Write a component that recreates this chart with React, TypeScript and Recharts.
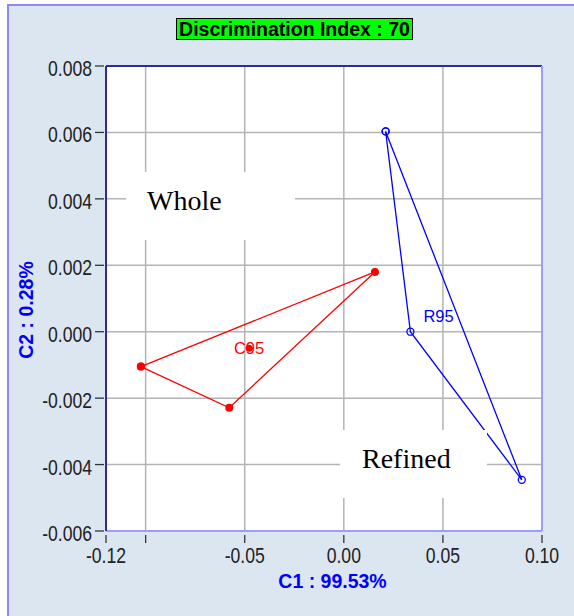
import React from 'react';
import { ScatterChart, Scatter, XAxis, YAxis, CartesianGrid, ReferenceLine } from 'recharts';

// C1 / C2 scores
const wholeC1 = [-0.1024, 0.0157, -0.0578];
const wholeC2 = [-0.00105, 0.0018, -0.00229];
const refinedC1 = [0.0211, 0.0336, 0.0898];
const refinedC2 = [0.00603, 0.0, -0.00446];

const groupNames = ['C95', 'R95'];
const centroidC1 = [-0.0478, 0.0478];
const centroidC2 = [-0.0005, 0.00048];

const xTicks = [-0.12, -0.1, -0.05, 0, 0.05, 0.1];
const yTicks = [-0.006, -0.004, -0.002, 0, 0.002, 0.004, 0.006, 0.008];

const SANS = '"Liberation Sans", Arial, sans-serif';
const PANEL = '#dce6f1';
const DARK = '#2b2b9c';
const LIGHT = '#9c9cff';

// closed outline: every vertex, then back to the first one
const ring = (xs: number[], ys: number[]) =>
  [...xs, xs[0]].map((x, i) => ({ x, y: i < ys.length ? ys[i] : ys[0] }));

const wholeData = ring(wholeC1, wholeC2);
const refinedData = ring(refinedC1, refinedC2);
const centroids = groupNames.map((name, i) => ({ name, x: centroidC1[i], y: centroidC2[i] }));

// tick labels in the original are a narrow face, so squeeze them a bit
const XTick = ({ x, y, payload }: any) => (
  <g>
    <line x1={x} x2={x} y1={y + 4} y2={y + 12} stroke="#333" strokeWidth={1.3} />
    {payload.value !== -0.1 && (
      <text transform={`translate(${x},${y + 32}) scale(0.8,1)`} textAnchor="middle"
            fontSize={22} fill="#222" fontFamily={SANS}>
        {payload.value.toFixed(2)}
      </text>
    )}
  </g>
);

const YTick = ({ x, y, payload }: any) => (
  <g>
    <line x1={x - 11} x2={x - 2} y1={y} y2={y} stroke="#333" strokeWidth={1.3} />
    <text transform={`translate(${x - 14},${y + 10}) scale(0.8,1)`} textAnchor="end"
          fontSize={22} fill="#222" fontFamily={SANS}>
      {payload.value.toFixed(3)}
    </text>
  </g>
);

const RedDot = ({ cx, cy }: any) => <circle cx={cx} cy={cy} r={4} fill="#ff0000" />;
const BlueDot = ({ cx, cy }: any) => (
  <circle cx={cx} cy={cy} r={3.5} fill="none" stroke="#0000ff" strokeWidth={1.3} />
);

const CentroidMark = ({ cx, cy, payload }: any) => {
  const red = payload.name === 'C95';
  const c = red ? '#ff0000' : '#0000ff';
  return (
    <g>
      {red && <circle cx={cx} cy={cy} r={3.5} fill={c} />}
      <text x={cx} y={cy + 6} textAnchor="middle" fontSize={16.5} fill={c} fontFamily={SANS}>
        {payload.name}
      </text>
    </g>
  );
};

const boxText: React.CSSProperties = {
  position: 'absolute',
  background: '#fff',
  fontFamily: '"Liberation Serif", "Times New Roman", serif',
  fontSize: 28,
  color: '#000',
  boxSizing: 'border-box',
};

export default function App() {
  return (
    <div style={{ position: 'absolute', left: 0, top: 0, width: 574, height: 616, overflow: 'hidden' }}>
      <div
        style={{
          position: 'absolute', left: 7, top: 4, width: 600, height: 640,
          background: PANEL, borderLeft: '2px solid #8a8af2', borderTop: '2px solid #8a8af2',
        }}
      />
      <div
        style={{
          position: 'absolute', left: 176, top: 18, width: 237, height: 22, boxSizing: 'border-box',
          background: '#00ff00', border: '1px solid #000', fontFamily: SANS, fontWeight: 'bold',
          fontSize: 19.5, lineHeight: '20px', textAlign: 'center', color: '#000', whiteSpace: 'nowrap',
        }}
      >
        Discrimination Index : 70
      </div>

      <div style={{ position: 'absolute', left: 0, top: 0 }}>
        <ScatterChart width={574} height={616} margin={{ top: 66, right: 32, bottom: 45, left: 46 }}>
          <CartesianGrid fill="#ffffff" stroke="#b4b4b4" strokeWidth={1.5} />
          <XAxis
            type="number" dataKey="x" domain={[-0.12, 0.1]} ticks={xTicks}
            allowDataOverflow interval={0} height={40}
            axisLine={{ stroke: LIGHT, strokeWidth: 2 }} tickLine={false}
            tickSize={0} tickMargin={0} tick={<XTick />}
          />
          <YAxis
            type="number" dataKey="y" domain={[-0.006, 0.008]} ticks={yTicks}
            allowDataOverflow interval={0} width={60}
            axisLine={{ stroke: DARK, strokeWidth: 2 }} tickLine={false}
            tickSize={0} tickMargin={0} tick={<YTick />}
          />
          <ReferenceLine y={0.008} stroke={DARK} strokeWidth={2} />
          <ReferenceLine x={0.1} stroke={LIGHT} strokeWidth={2} />

          <Scatter data={wholeData} line={{ stroke: '#ff0000', strokeWidth: 1.3 }}
                   shape={<RedDot />} isAnimationActive={false} />
          <Scatter data={refinedData} line={{ stroke: '#0000ff', strokeWidth: 1.3 }}
                   shape={<BlueDot />} isAnimationActive={false} />
          <Scatter data={centroids} shape={<CentroidMark />} isAnimationActive={false} />

          <text x={33} y={310} transform="rotate(-90 33 310)" textAnchor="middle"
                fontSize={19.5} fontWeight="bold" fill="#0000ff" fontFamily={SANS}>
            C2 : 0.28%
          </text>
          <text x={332.5} y={588} textAnchor="middle" fontSize={19.5} fontWeight="bold"
                fill="#0000ff" fontFamily={SANS}>
            C1 : 99.53%
          </text>
        </ScatterChart>
      </div>

      <div style={{ ...boxText, left: 126, top: 172, width: 169, height: 68, paddingLeft: 21, paddingTop: 13 }}>
        Whole
      </div>
      <div style={{ ...boxText, left: 340, top: 430, width: 147, height: 68, paddingLeft: 22, paddingTop: 13 }}>
        Refined
      </div>
    </div>
  );
}
